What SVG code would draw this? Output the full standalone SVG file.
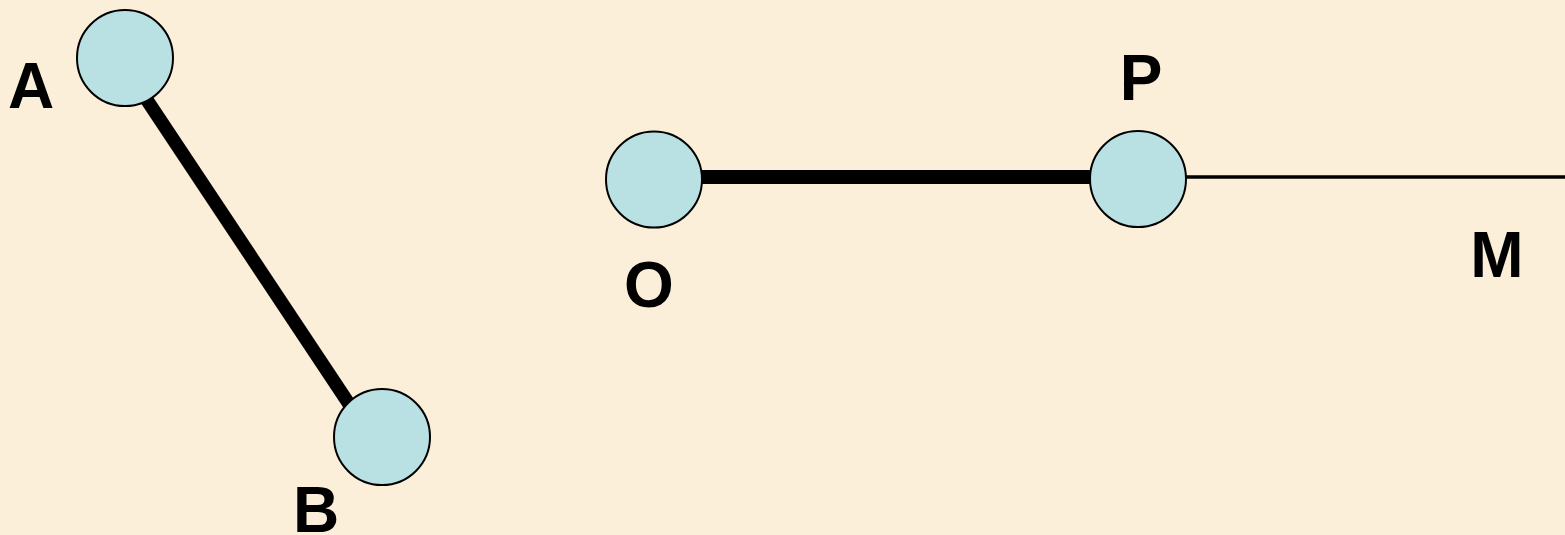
<svg xmlns="http://www.w3.org/2000/svg" width="1565" height="535" viewBox="0 0 1565 535">
<style>
.node{fill:#B9E0E3;stroke:#000;stroke-width:2}
.lbl{font-family:"Liberation Sans",Arial,sans-serif;font-weight:bold;font-size:64px;fill:#000;text-anchor:middle}
</style>
<rect x="0" y="0" width="1565" height="535" fill="#FCEFDA"/>
<g id="connectors">
<line x1="119" y1="58" x2="371" y2="437" stroke="#000" stroke-width="13.5"/>
<line x1="697" y1="177" x2="1100" y2="177" stroke="#000" stroke-width="14"/>
<line x1="1186" y1="177" x2="1565" y2="177" stroke="#000" stroke-width="3.5"/>
</g>
<g id="node-A"><circle class="node" cx="125" cy="58" r="48"/><text class="lbl" x="31" y="108">A</text></g>
<g id="node-B"><circle class="node" cx="382" cy="437" r="48"/><text class="lbl" x="316" y="532">B</text></g>
<g id="node-O"><circle class="node" cx="654" cy="179.5" r="48"/><text class="lbl" x="649" y="307">O</text></g>
<g id="node-P"><circle class="node" cx="1138" cy="179" r="48"/><text class="lbl" x="1141" y="100">P</text></g>
<g id="label-M"><text class="lbl" x="1497" y="277">M</text></g>
</svg>
